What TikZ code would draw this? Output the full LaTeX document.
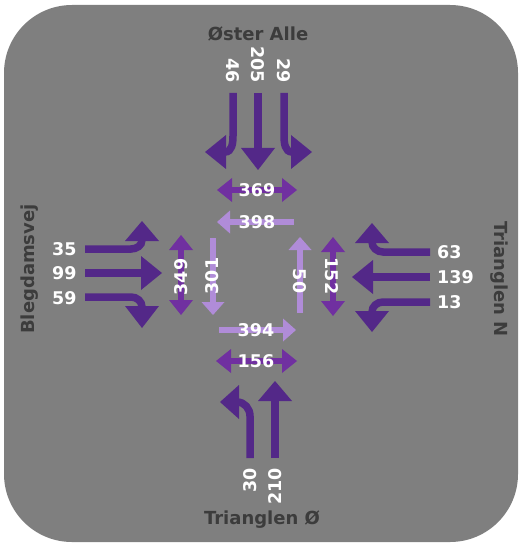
\documentclass[tikz,border=0pt]{standalone}
\usepackage{fontspec}
\setmainfont{DejaVu Sans}
\definecolor{bgc}{HTML}{7F7F7F}
\definecolor{dp}{HTML}{532888}
\definecolor{mp}{HTML}{7030A0}
\definecolor{lp}{HTML}{B08CD8}
\definecolor{tg}{HTML}{3C3C3C}
\tikzset{
  dshaft/.style={draw=dp, line width=7.5pt},
  mshaft/.style={draw=mp, line width=6.5pt},
  lshaft/.style={draw=lp, line width=6pt},
  num/.style={text=white, font=\fontsize{17.5}{20}\selectfont\bfseries, inner sep=0pt},
  ttl/.style={text=tg, font=\fontsize{18}{20}\selectfont\bfseries, inner sep=0pt},
}
\begin{document}
\begin{tikzpicture}[x=1pt,y=-1pt]
\useasboundingbox (0,0) rectangle (520,545);
\fill[bgc, rounded corners=68pt] (4,5) rectangle (518,542);

% ---- top approach (Oster Alle)
\draw[dshaft] (233,93) -- (233,136) to[out=-90,in=0] (225,152);
\fill[dp] (205,152) -- (226,135) -- (226,169) -- cycle;
\draw[dshaft] (258,93) -- (258,149);
\fill[dp] (258,170) -- (241,148) -- (275,148) -- cycle;
\draw[dshaft] (284,93) -- (284,136) to[out=-90,in=180] (292,152);
\fill[dp] (312,152) -- (291,135) -- (291,169) -- cycle;

% ---- left approach (Blegdamsvej)
\draw[dshaft] (85,249) -- (131,249) to[out=0,in=-90] (142,240);
\fill[dp] (142,221) -- (125,241) -- (159,241) -- cycle;
\draw[dshaft] (85,273) -- (142,273);
\fill[dp] (162,273) -- (141,256) -- (141,290) -- cycle;
\draw[dshaft] (85,297) -- (131,297) to[out=0,in=90] (142,307);
\fill[dp] (142,328) -- (125,306) -- (159,306) -- cycle;

% ---- right approach (Trianglen N)
\draw[dshaft] (430,252) -- (383,252) to[out=180,in=-90] (372,242);
\fill[dp] (372,223) -- (355,243) -- (389,243) -- cycle;
\draw[dshaft] (430,277) -- (372,277);
\fill[dp] (352,277) -- (373,260) -- (373,294) -- cycle;
\draw[dshaft] (430,302) -- (383,302) to[out=180,in=90] (372,312);
\fill[dp] (372,332) -- (355,311) -- (389,311) -- cycle;

% ---- bottom approach (Trianglen O)
\draw[dshaft] (250,458) -- (250,416) to[out=90,in=0] (237,402);
\fill[dp] (220,402) -- (239,385) -- (239,419) -- cycle;
\draw[dshaft] (275,458) -- (275,399);
\fill[dp] (275,381) -- (258,401) -- (292,401) -- cycle;

% ---- crossing arrows (double, medium purple)
\draw[mshaft] (230,190) -- (284,190);
\fill[mp] (217,190) -- (232,178) -- (232,202) -- cycle;
\fill[mp] (297,190) -- (282,178) -- (282,202) -- cycle;
\draw[mshaft] (230,361) -- (283,361);
\fill[mp] (216,361) -- (231,349) -- (231,373) -- cycle;
\fill[mp] (297,361) -- (282,349) -- (282,373) -- cycle;
\draw[mshaft] (181,248) -- (181,302);
\fill[mp] (181,235) -- (169,250) -- (193,250) -- cycle;
\fill[mp] (181,315) -- (169,300) -- (193,300) -- cycle;
\draw[mshaft] (333,250) -- (333,303);
\fill[mp] (333,237) -- (321,252) -- (345,252) -- cycle;
\fill[mp] (333,316) -- (321,301) -- (345,301) -- cycle;

% ---- inner arrows (light purple)
\draw[lshaft] (294,222) -- (229,222);
\fill[lp] (217,222) -- (230,210.5) -- (230,233.5) -- cycle;
\draw[lshaft] (213,238) -- (213,303);
\fill[lp] (213,315) -- (201.5,302) -- (224.5,302) -- cycle;
\draw[lshaft] (300,313) -- (300,249);
\fill[lp] (300,237) -- (288.5,250) -- (311.5,250) -- cycle;
\draw[lshaft] (219,330) -- (284,330);
\fill[lp] (296,330) -- (283,318.5) -- (283,341.5) -- cycle;

% ---- titles
\node[ttl] (tN) at (258,34) {Øster Alle};
\node[ttl, rotate=90] (tW) at (30,269) {Blegdamsvej};
\node[ttl, rotate=-90] (tE) at (499,279) {Trianglen N};
\node[ttl] (tS) at (262,520) {Trianglen Ø};

% ---- approach numbers
\node[num, rotate=-90, anchor=east] (n46) at (233,83) {46};
\node[num, rotate=-90, anchor=east] (n205) at (258,83) {205};
\node[num, rotate=-90, anchor=east] (n29) at (284,83) {29};
\node[num, anchor=west] (n35) at (52,249) {35};
\node[num, anchor=west] (n99) at (52,273) {99};
\node[num, anchor=west] (n59) at (52,298) {59};
\node[num, anchor=west] (n63) at (437,252) {63};
\node[num, anchor=west] (n139) at (437,277) {139};
\node[num, anchor=west] (n13) at (437,302) {13};
\node[num, rotate=90, anchor=east] (n30) at (250,468) {30};
\node[num, rotate=90, anchor=east] (n210) at (275,468) {210};

% ---- inner numbers
\node[num] (c369) at (257,190) {369};
\node[num] (c398) at (257,222) {398};
\node[num, rotate=90] (c301) at (212,276) {301};
\node[num, rotate=-90] (c50) at (300,281) {50};
\node[num] (c394) at (256,330) {394};
\node[num] (c156) at (256,361) {156};
\node[num, rotate=90] (c349) at (181,277) {349};
\node[num, rotate=-90] (c152) at (332,276) {152};
\end{tikzpicture}
\end{document}
